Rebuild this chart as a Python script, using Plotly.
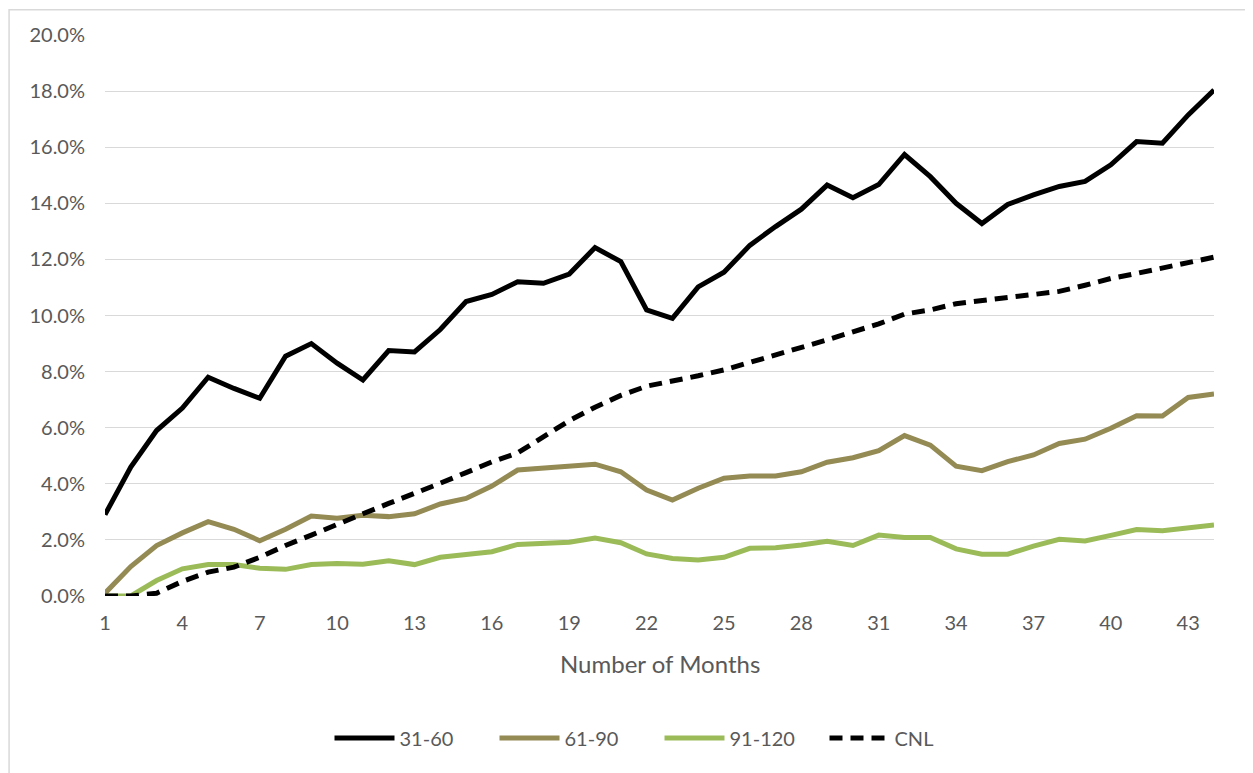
import plotly.graph_objects as go

months = list(range(1, 45))

d31_60 = [2.9, 4.6, 5.9, 6.7, 7.8, 7.4, 7.05, 8.55, 9.0, 8.3, 7.7, 8.75, 8.7, 9.5, 10.5,
          10.75, 11.2, 11.15, 11.48, 12.42, 11.92, 10.2, 9.9, 11.02, 11.54, 12.5, 13.17, 13.79,
          14.65, 14.2, 14.67, 15.74, 14.95, 14.0, 13.28, 13.96, 14.3, 14.6, 14.78, 15.37,
          16.2, 16.14, 17.15, 18.04]
d61_90 = [0.1, 1.05, 1.8, 2.25, 2.65, 2.38, 1.97, 2.38, 2.85, 2.77, 2.88, 2.83, 2.93, 3.28, 3.48,
          3.92, 4.49, 4.57, 4.63, 4.7, 4.43, 3.78, 3.42, 3.84, 4.2, 4.28, 4.28, 4.43,
          4.77, 4.93, 5.18, 5.72, 5.38, 4.63, 4.47, 4.79, 5.03, 5.44, 5.59, 5.98,
          6.43, 6.42, 7.08, 7.2]
d91_120 = [0.0, 0.0, 0.55, 0.97, 1.12, 1.12, 0.99, 0.95, 1.12, 1.16, 1.13, 1.26, 1.12, 1.38, 1.48,
           1.58, 1.84, 1.9, 1.92, 2.07, 1.9, 1.5, 1.34, 1.28, 1.38, 1.7, 1.72, 1.82,
           1.95, 1.8, 2.17, 2.09, 2.09, 1.68, 1.49, 1.49, 1.78, 2.02, 1.96, 2.16,
           2.37, 2.33, 2.43, 2.53]
cnl = [0.0, 0.0, 0.1, 0.52, 0.85, 1.03, 1.38, 1.8, 2.17, 2.57, 2.93, 3.3, 3.65, 4.02, 4.4,
       4.78, 5.1, 5.68, 6.25, 6.73, 7.15, 7.48, 7.65, 7.85, 8.06, 8.32, 8.58, 8.83,
       9.13, 9.42, 9.7, 10.05, 10.2, 10.42, 10.53, 10.6, 10.75, 10.86, 11.08, 11.32,
       11.5, 11.68, 11.88, 12.08]

series_names = ["31-60", "61-90", "91-120", "CNL"]
series_data = [d31_60, d61_90, d91_120, cnl]
colors = ["#000000", "#948A54", "#9BBB59", "#000000"]
dashes = ["solid", "solid", "solid", "13px,8px"]

x_ticks = list(range(1, 44, 3))
y_ticks = [i / 100 for i in range(0, 21, 2)]

font_family = "Lato, 'Liberation Sans', sans-serif"
txt = "#595959"

fig = go.Figure()
for name, vals, c, d in zip(series_names, series_data, colors, dashes):
    fig.add_trace(go.Scatter(
        x=months, y=[v / 100 for v in vals], name=name, mode="lines",
        line=dict(color=c, width=5, dash=d),
    ))

# page body has an 8px default margin, so offsets are reduced by 8px
fig.update_layout(
    width=1253, height=773,
    margin=dict(l=97, r=47, t=27, b=185),
    paper_bgcolor="white", plot_bgcolor="white",
    font=dict(family=font_family, size=20, color=txt),
    showlegend=True,
    legend=dict(orientation="h", x=0.5, xanchor="center", y=-0.253, yanchor="middle",
                font=dict(size=20, color=txt), itemwidth=60, entrywidth=90,
                tracegroupgap=0),
    xaxis=dict(range=[1, 44], tickvals=x_ticks, showgrid=False, zeroline=False,
               showline=False, ticks="", ticklabelstandoff=13,
               tickfont=dict(size=20, color=txt)),
    yaxis=dict(range=[0, 0.2], tickvals=y_ticks, tickformat=".1%", showgrid=True,
               gridcolor="#D9D9D9", gridwidth=1.3, zeroline=False, showline=False,
               ticks="", ticklabelstandoff=19, tickfont=dict(size=20, color=txt)),
    annotations=[dict(text="Number of Months", x=0.5, y=-0.121, xref="paper", yref="paper",
                      xanchor="center", yanchor="middle", showarrow=False,
                      font=dict(size=24, color=txt))],
    shapes=[dict(type="rect", xref="paper", yref="paper",
                 x0=-0.0865, x1=1.2, y0=-0.5, y1=1.045,
                 line=dict(color="#D9D9D9", width=1.5), layer="below")],
)

fig.write_html("out.html")
